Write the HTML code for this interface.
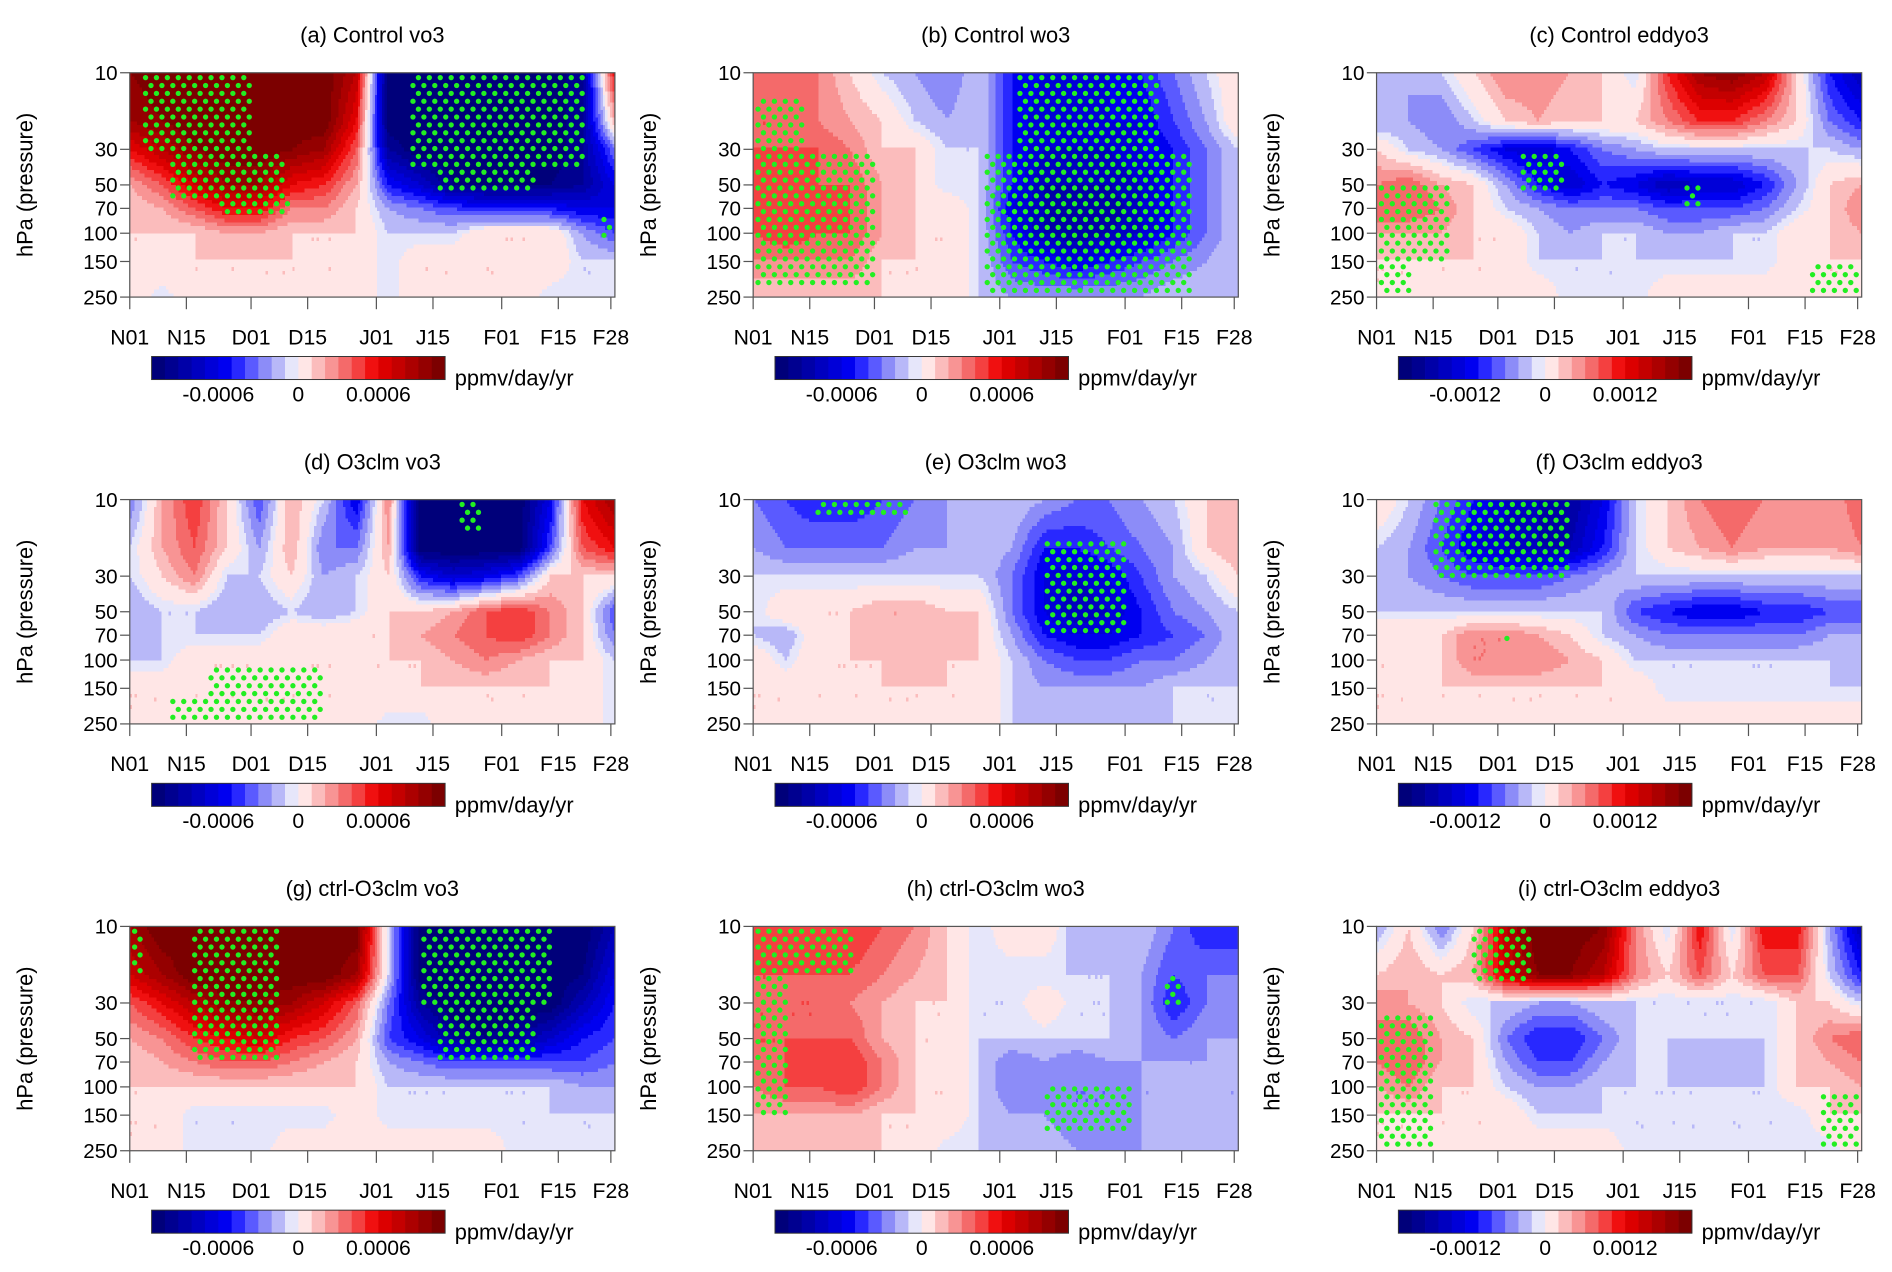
<!DOCTYPE html>
<html><head><meta charset="utf-8">
<style>
html,body{margin:0;padding:0;background:#fff;}
svg{display:block;font-family:"Liberation Sans",Arial,sans-serif;}
</style></head>
<body>
<svg id="fig" width="1892" height="1272" viewBox="0 0 1560 1049" preserveAspectRatio="none" xmlns="http://www.w3.org/2000/svg"></svg>
<script>
// ---- data ----
const panelTitles = ["(a) Control vo3","(b) Control wo3","(c) Control eddyo3","(d) O3clm vo3","(e) O3clm wo3","(f) O3clm eddyo3","(g) ctrl-O3clm vo3","(h) ctrl-O3clm wo3","(i) ctrl-O3clm eddyo3"];
const timeDays = [0,8,16,24,32,40,48,56,64,72,80,88,96,104,112,120];
const pressureLevels = [10,20,30,50,70,100,150,250];
const yTickValues = [10,30,50,70,100,150,250];
const xTickDays = [0,14,30,44,61,75,92,106,119];
const xTickLabels = ["N01","N15","D01","D15","J01","J15","F01","F15","F28"];
const cbarLabelsSmall = ["-0.0006","0","0.0006"];
const cbarLabelsLarge = ["-0.0012","0","0.0012"];
// fields in colour-level units (1 unit = 0.0001 for vo3/wo3, 0.0002 for eddyo3)
const fieldA = [
[10,11,11,11,11,11,11,8,-11,-11,-11,-11,-11,-11,-9,6],
[9,10,11,11,11,11,11,6,-11,-11,-11,-11,-11,-11,-9,2],
[6,8,10,11,11,10,9,4,-9,-11,-11,-11,-11,-11,-9,-3],
[2,4,7,9,9,6,5,2,-5,-7,-10,-10,-10,-10,-9,-6],
[1,2,4,6,6,3,3,1,-2,-3,-4,-5,-5,-5,-6,-6],
[1,1,1,2,2,1,1,1,-1,-1,-1,1,1,1,-2,-4],
[1,1,1,1,1,1,1,1,-1,1,1,1,1,1,-1,-1],
[1,-1,1,1,1,1,1,1,-1,1,1,1,1,-1,-1,-1]];
const fieldB = [
[3,4,3,1,-1,-2,-3,-1,-5,-6,-6,-6,-5,-3,-1,1],
[4,4,3,2,1,-1,-2,-1,-5,-7,-7,-6,-6,-4,-2,1],
[4,4,4,3,1,1,-1,-1,-5,-7,-7,-7,-6,-5,-3,-1],
[4,5,4,4,2,1,-1,-1,-5,-8,-8,-8,-7,-5,-3,-1],
[5,5,5,4,2,1,1,-1,-6,-8,-9,-9,-7,-5,-3,-1],
[4,5,4,4,2,1,1,-1,-5,-8,-9,-8,-7,-5,-3,-1],
[3,3,3,3,1,1,1,-1,-4,-5,-6,-5,-4,-3,-2,-1],
[1,1,1,1,1,1,1,-1,-2,-2,-2,-2,-2,-1,-1,-1]];
const fieldC = [
[-1,-2,-1,1,3,3,2,1,-1,5,9,10,8,1,-5,-8],
[-2,-2,-3,-1,1,2,1,1,1,3,5,5,3,1,-3,-5],
[1,-1,-2,-4,-6,-7,-5,-3,-2,-1,-1,-1,-1,-1,-1,-2],
[3,4,2,1,-2,-5,-7,-5,-6,-8,-7,-7,-5,-2,1,2],
[4,4,3,1,-1,-2,-3,-3,-3,-4,-4,-4,-3,-1,1,3],
[2,2,2,1,1,-1,-2,-1,-1,-2,-2,-1,-1,1,1,2],
[1,1,1,1,1,-1,-1,-1,-1,-1,-1,-1,-1,1,1,1],
[1,1,1,1,1,1,-1,-1,-1,1,1,1,1,1,1,1]];
const fieldD = [
[-3,2,5,1,-4,2,-1,-6,3,-11,-11,-11,-11,-6,6,9],
[-1,2,4,1,-2,2,-3,-3,2,-11,-11,-11,-11,-4,4,6],
[-1,1,3,-1,-1,1,-2,-1,1,-5,-7,-6,-4,1,1,1],
[-2,-1,-1,-2,-2,-1,-2,-1,1,1,2,4,5,3,1,-4],
[-2,-1,-1,-1,-1,1,1,1,1,2,3,4,5,3,1,-3],
[-1,-1,1,1,1,1,1,1,1,1,2,3,2,1,1,-1],
[1,1,1,1,1,1,1,1,1,1,1,1,1,1,1,-1],
[1,1,1,1,1,1,1,1,-1,-1,1,1,1,1,1,-1]];
const fieldE = [
[-3,-4,-5,-5,-4,-3,-2,-1,-1,-2,-3,-3,-2,-1,1,2],
[-2,-3,-3,-3,-3,-2,-2,-1,-2,-5,-5,-4,-3,-2,1,2],
[-1,-1,-1,-1,-1,-1,-1,-1,-3,-6,-7,-6,-4,-2,-1,1],
[-1,1,1,1,2,2,1,1,-3,-6,-8,-7,-5,-3,-2,-1],
[-1,-2,1,1,2,2,2,1,-2,-5,-6,-6,-5,-4,-3,-1],
[1,-1,1,1,1,2,1,1,-1,-3,-4,-4,-3,-3,-2,-1],
[1,1,1,1,1,1,1,1,-1,-2,-2,-2,-2,-1,-1,-1],
[1,1,1,1,1,1,1,1,-1,-1,-1,-1,-1,-1,-1,-1]];
const fieldF = [
[1,-1,-3,-5,-7,-8,-9,-6,-1,1,3,4,3,3,2,4],
[-1,-2,-4,-6,-7,-8,-8,-5,-1,1,2,3,2,2,2,3],
[-1,-2,-3,-4,-4,-4,-3,-2,-1,-1,-1,-1,-1,-1,-1,-1],
[-1,-1,-1,-1,-1,-1,-1,-1,-4,-5,-6,-6,-5,-5,-4,-4],
[1,1,1,3,3,2,1,-1,-2,-3,-3,-3,-3,-3,-2,-2],
[1,1,1,3,3,3,2,1,-1,-1,-1,-1,-1,-1,-1,-2],
[1,1,1,1,1,1,1,1,1,-1,-1,-1,-1,-1,-1,-1],
[1,1,1,1,1,1,1,1,1,1,1,1,1,1,1,1]];
const fieldG = [
[9,11,11,11,11,11,11,11,-1,-11,-11,-11,-11,-11,-11,-8],
[7,9,11,11,11,11,11,9,-1,-11,-11,-11,-11,-11,-10,-6],
[4,6,8,10,10,9,7,4,-3,-9,-11,-11,-11,-11,-8,-5],
[2,3,5,6,7,5,4,2,-4,-6,-9,-10,-9,-7,-5,-4],
[1,2,3,4,4,3,2,1,-2,-3,-4,-4,-4,-4,-4,-3],
[1,1,1,1,1,1,1,1,-1,-1,-1,-1,-1,-1,-2,-2],
[1,1,-1,-1,-1,-1,-1,1,-1,-1,-1,-1,-1,-1,-1,-1],
[1,1,-1,-1,-1,1,1,1,1,1,1,1,-1,-1,-1,-1]];
const fieldH = [
[5,5,5,5,4,3,1,-1,1,1,-2,-2,-1,-3,-5,-5],
[4,4,4,4,3,2,1,-1,-1,-1,-1,-1,-2,-4,-3,-3],
[4,4,4,3,2,1,1,-1,-1,1,-1,-1,-2,-5,-3,-2],
[4,4,4,4,2,1,1,-1,-1,-1,-1,-1,-2,-3,-2,-2],
[4,4,5,5,3,1,1,-1,-3,-2,-3,-2,-2,-2,-2,-2],
[3,4,4,5,3,1,1,-1,-3,-2,-3,-3,-2,-2,-2,-2],
[2,2,2,2,1,1,1,-1,-2,-2,-3,-3,-2,-2,-2,-2],
[1,1,1,1,1,1,-1,-1,-1,-1,-2,-2,-2,-1,-1,-1]];
const fieldI = [
[-2,1,-3,1,8,11,11,10,3,-1,6,-1,6,6,-2,-8],
[1,2,1,2,7,10,10,8,3,1,4,1,4,4,-1,-5],
[3,2,1,-1,-1,-2,-2,-1,-1,-1,-1,-1,-1,1,1,-1],
[3,4,2,1,-3,-5,-5,-3,-1,-1,-1,-1,-1,1,3,4],
[3,4,2,1,-2,-4,-4,-2,-1,-1,-2,-2,-1,1,2,3],
[2,3,1,1,-1,-2,-2,-1,-1,-1,-1,-1,-1,1,1,2],
[1,1,1,1,1,-1,-1,-1,-1,-1,-1,-1,-1,-1,1,1],
[1,1,1,1,1,1,1,1,-1,-1,-1,-1,-1,-1,-1,1]];
const panelFields = [fieldA,fieldB,fieldC,fieldD,fieldE,fieldF,fieldG,fieldH,fieldI];
// significance regions: [dayStart, dayEnd, pTop, pBottom]
const stippleA = [[3,30,10,30],[10,38,30,60],[22,40,60,80],[70,112,10,40],[76,100,40,55],[117,120,80,110]];
const stippleB = [[0,12,15,30],[0,30,30,220],[66,100,10,30],[58,108,30,240]];
const stippleC = [[0,18,50,150],[0,8,150,250],[36,46,30,55],[76,80,50,70],[108,120,150,250]];
const stippleD = [[20,48,110,250],[10,20,170,250],[82,87,10,15]];
const stippleE = [[72,92,18,70],[16,38,10,12]];
const stippleF = [[14,48,10,32],[30,32,70,80]];
const stippleG = [[1,3,10,20],[16,36,10,70],[72,104,10,30],[76,100,30,70]];
const stippleH = [[0,24,10,20],[0,8,20,150],[72,94,100,190],[102,106,20,30]];
const stippleI = [[0,14,35,250],[24,38,10,22],[110,120,110,250]];
const panelStipples = [stippleA,stippleB,stippleC,stippleD,stippleE,stippleF,stippleG,stippleH,stippleI];

// ---- rendering ----
const colors = ["#00007a","#000090","#0000a8","#0000c0","#0000d8","#0000f0","#2828ff","#5a5aff","#8c8cf8","#b8b8f8","#e6e6fa",
"#ffe6e6","#fbbcbc","#f89494","#f46a6a","#f44040","#f01010","#dc0000","#c40000","#ac0000","#940000","#7c0000"];
const NS="http://www.w3.org/2000/svg";
const svg=document.getElementById('fig');
function mk(tag,attrs,parent){const e=document.createElementNS(NS,tag);for(const k in attrs)e.setAttribute(k,attrs[k]);(parent||svg).appendChild(e);return e;}
const PW=400,PH=185,X0=107,Y0=60;
const lp=p=>Math.log10(p);
function colIdx(v){if(Math.abs(v)<0.3)return 11;return v>0?Math.min(21,10+Math.ceil(v)):Math.max(0,11+Math.floor(v));}
function sample(field,t,p){
  let i=0;while(i<timeDays.length-2&&t>timeDays[i+1])i++;
  let fx=(t-timeDays[i])/(timeDays[i+1]-timeDays[i]);fx=Math.max(0,Math.min(1,fx));
  const L=lp(p);let j=0;while(j<pressureLevels.length-2&&L>lp(pressureLevels[j+1]))j++;
  let fy=(L-lp(pressureLevels[j]))/(lp(pressureLevels[j+1])-lp(pressureLevels[j]));fy=Math.max(0,Math.min(1,fy));
  const a=field[j][i],b=field[j][i+1],c=field[j+1][i],d=field[j+1][i+1];
  return a*(1-fx)*(1-fy)+b*fx*(1-fy)+c*(1-fx)*fy+d*fx*fy;
}
panelTitles.forEach((title,k)=>{
  const col=k%3,row=Math.floor(k/3);
  const ox=X0+col*514,oy=Y0+row*352;
  const xS=d=>ox+d/120*PW;
  const yS=p=>oy+(lp(p)-1)/(lp(250)-1)*PH;
  const g=mk('g',{});
  
  
  const t=mk('text',{x:ox+PW/2,y:oy-25,'font-size':18,'text-anchor':'middle',fill:'#000'},g);
  t.textContent=title;
  
  
  const field=panelFields[k];
  const cg=mk('g',{'shape-rendering':'crispEdges'},g);
  
  
  const NX=200,NY=60;
  const ymin=lp(10),ymax=lp(250);
  for(let r=0;r<NY;r++){
    const p=Math.pow(10,ymin+(r+0.5)/NY*(ymax-ymin));
    const y0=oy+r/NY*PH,h=PH/NY+0.4;
    let start=0,cur=colIdx(sample(field,0.5/NX*120,p));
    for(let c=1;c<=NX;c++){
      const ci=c<NX?colIdx(sample(field,(c+0.5)/NX*120,p)):-99;
      if(ci!==cur){
        const rc=mk('rect',{x:(ox+start/NX*PW).toFixed(2),y:y0.toFixed(2),width:((c-start)/NX*PW+0.4).toFixed(2),height:h.toFixed(2),fill:colors[cur]},cg);
        
        
        start=c;cur=ci;
      }
    }
  }
  // stipples
  const sg=mk('g',{fill:'#22ee22'},g);
  
  
  const drawn=new Set();
  panelStipples[k].forEach(reg=>{
    const xa=xS(reg[0]),xb=xS(reg[1]),ya=yS(reg[2]),yb=yS(reg[3]);
    let rr=0;
    for(let y=oy+4;y<oy+PH;y+=6.5,rr++){
      if(y<ya-0.5||y>yb+0.5)continue;
      for(let x=ox+4+(rr%2)*4.5;x<ox+PW;x+=9){
        if(x<xa-1||x>xb+1)continue;
        const key=x.toFixed(1)+','+y.toFixed(1);
        if(drawn.has(key))continue;drawn.add(key);
        const dt=mk('circle',{cx:x.toFixed(1),cy:y.toFixed(1),r:2.2},sg);
        
        
      }
    }
  });
  const fr=mk('rect',{x:ox,y:oy,width:PW,height:PH,fill:'none',stroke:'#555','stroke-width':1},g);
  
  
  yTickValues.forEach(p=>{
    const y=yS(p);
    const tl=mk('line',{x1:ox-8,x2:ox,y1:y,y2:y,stroke:'#555','stroke-width':1},g);
    
    
    const tx=mk('text',{x:ox-10,y:y+6,'font-size':17,'text-anchor':'end',fill:'#000'},g);
    tx.textContent=p;
    
    
  });
  xTickDays.forEach((d,m)=>{
    const x=xS(d);
    const tl=mk('line',{x1:x,x2:x,y1:oy+PH,y2:oy+PH+10,stroke:'#555','stroke-width':1},g);
    
    
    const tx=mk('text',{x:x,y:oy+PH+39,'font-size':17.5,'text-anchor':'middle',fill:'#000'},g);
    tx.textContent=xTickLabels[m];
    
    
  });
  const yl=mk('text',{x:0,y:0,'font-size':18,'text-anchor':'middle',fill:'#000',transform:`translate(${ox-80},${oy+PH/2}) rotate(-90)`},g);
  yl.textContent='hPa (pressure)';
  
  
  // colorbar
  const cb=mk('g',{},g);
  
  
  const cx0=ox+18,cw=11,cy=oy+234,ch=19;
  colors.forEach((c,m)=>{
    const b=mk('rect',{x:cx0+m*cw,y:cy,width:cw+0.3,height:ch,fill:c},cb);
    
    
  });
  const cbo=mk('rect',{x:cx0,y:cy,width:cw*22,height:ch,fill:'none',stroke:'#333','stroke-width':0.8},cb);
  
  
  const labs=col===2?cbarLabelsLarge:cbarLabelsSmall;
  [5,11,17].forEach((bi,m)=>{
    const tx=mk('text',{x:cx0+bi*cw,y:cy+ch+18,'font-size':17.5,'text-anchor':'middle',fill:'#000'},cb);
    tx.textContent=labs[m];
    
    
  });
  const un=mk('text',{x:cx0+cw*22+8,y:cy+ch+5,'font-size':18,fill:'#000'},cb);
  un.textContent='ppmv/day/yr';
  
  
});
</script>
</body></html>
